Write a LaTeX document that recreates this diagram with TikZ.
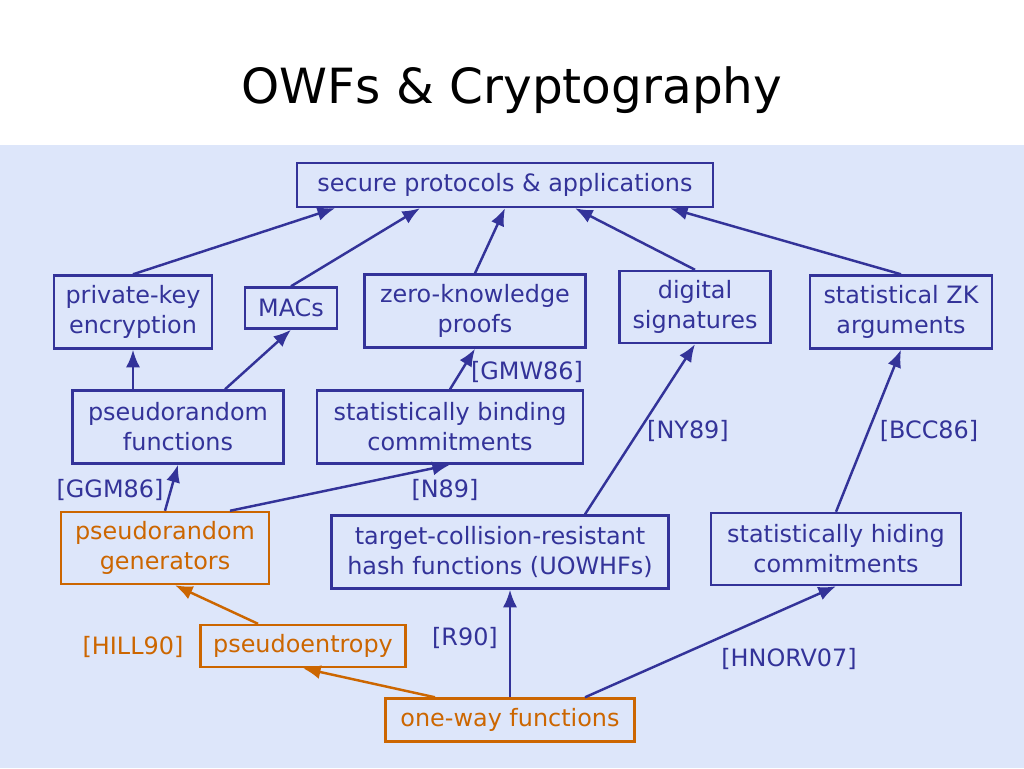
\documentclass[tikz,border=0pt]{standalone}
\usepackage{fontspec}
\setmainfont{DejaVu Sans}
\usetikzlibrary{positioning, arrows.meta}
\definecolor{bluebox}{HTML}{333399}
\definecolor{orangebox}{HTML}{CC6600}
\definecolor{bgblue}{HTML}{DDE6FA}
\tikzset{
	box/.style={draw=bluebox, line width=1.4pt, text=bluebox, align=center, font=\fontsize{13.6}{17}\selectfont, inner sep=2pt},
	obox/.style={box, draw=orangebox, text=orangebox},
	lbl/.style={text=bluebox, font=\fontsize{13.6}{17}\selectfont},
	arr/.style={-{Latex[length=10pt,width=8pt]}, line width=1.4pt, draw=bluebox},
	oarr/.style={arr, draw=orangebox}
}
\begin{document}
\begin{tikzpicture}[x=0.02cm, y=-0.02cm]
	\useasboundingbox (0,0) rectangle (1024,768);
	\fill[bgblue] (0,145) rectangle (1024,768);
	\node (title) at (512,90) {\fontsize{27.6}{33}\selectfont OWFs \& Cryptography};
	
	\node [box, minimum width=8.32cm, minimum height=0.88cm] (sec) at (505,185) {secure protocols \& applications};
	\node [box, minimum width=3.16cm, minimum height=1.46cm] (pke) at (133,312) {private-key\\ encryption};
	\node [box, minimum width=1.84cm, minimum height=0.82cm] (mac) at (291,308) {MACs};
	\node [box, minimum width=4.42cm, minimum height=1.46cm] (zk) at (475,311) {zero-knowledge\\ proofs};
	\node [box, minimum width=3.02cm, minimum height=1.44cm] (sig) at (695,307) {digital\\ signatures};
	\node [box, minimum width=3.64cm, minimum height=1.46cm] (szk) at (901,312) {statistical ZK\\ arguments};
	\node [box, minimum width=4.22cm, minimum height=1.46cm] (prf) at (178,427) {pseudorandom\\ functions};
	\node [box, minimum width=5.32cm, minimum height=1.46cm] (sbc) at (450,427) {statistically binding\\ commitments};
	\node [obox, minimum width=4.16cm, minimum height=1.44cm] (prg) at (165,548) {pseudorandom\\ generators};
	\node [box, minimum width=6.74cm, minimum height=1.46cm] (tcr) at (500,552) {target-collision-resistant\\ hash functions (UOWHFs)};
	\node [box, minimum width=5.0cm, minimum height=1.44cm] (shc) at (836,549) {statistically hiding\\ commitments};
	\node [obox, minimum width=4.1cm, minimum height=0.84cm] (pent) at (303,646) {pseudoentropy};
	\node [obox, minimum width=4.98cm, minimum height=0.86cm] (owf) at (510,720) {one-way functions};
	
	\node [lbl] (gmw) at (527,372) {[GMW86]};
	\node [lbl] (ny) at (688,431) {[NY89]};
	\node [lbl] (bcc) at (929,431) {[BCC86]};
	\node [lbl] (ggm) at (110,490) {[GGM86]};
	\node [lbl] (n89) at (445,490) {[N89]};
	\node [lbl, text=orangebox] (hill) at (133,647) {[HILL90]};
	\node [lbl] (r90) at (465,638) {[R90]};
	\node [lbl] (hnorv) at (789,659) {[HNORV07]};
	
	\draw [arr] (pke.north) -- (sec.south west -| 335,0);
	\draw [arr] (mac.north) -- (sec.south -| 420,0);
	\draw [arr] (zk.north) -- (sec.south);
	\draw [arr] (sig.north) -- (sec.south -| 575,0);
	\draw [arr] (szk.north) -- (sec.south -| 670,0);
	\draw [arr] (prf.north -| pke) -- (pke.south);
	\draw [arr] (prf.north -| 225,0) -- (mac.south);
	\draw [arr] (sbc.north) -- (zk.south);
	\draw [arr] (prg.north) -- (prf.south);
	\draw [arr] (prg.north -| 230,0) -- (sbc.south);
	\draw [arr] (tcr.north -| 585,0) -- (sig.south);
	\draw [arr] (shc.north) -- (szk.south);
	\draw [oarr] (pent.north -| 258,0) -- (prg.south -| 175,0);
	\draw [oarr] (owf.north -| 435,0) -- (pent.south);
	\draw [arr] (owf.north) -- (tcr.south -| owf);
	\draw [arr] (owf.north -| 585,0) -- (shc.south);
\end{tikzpicture}
\end{document}
